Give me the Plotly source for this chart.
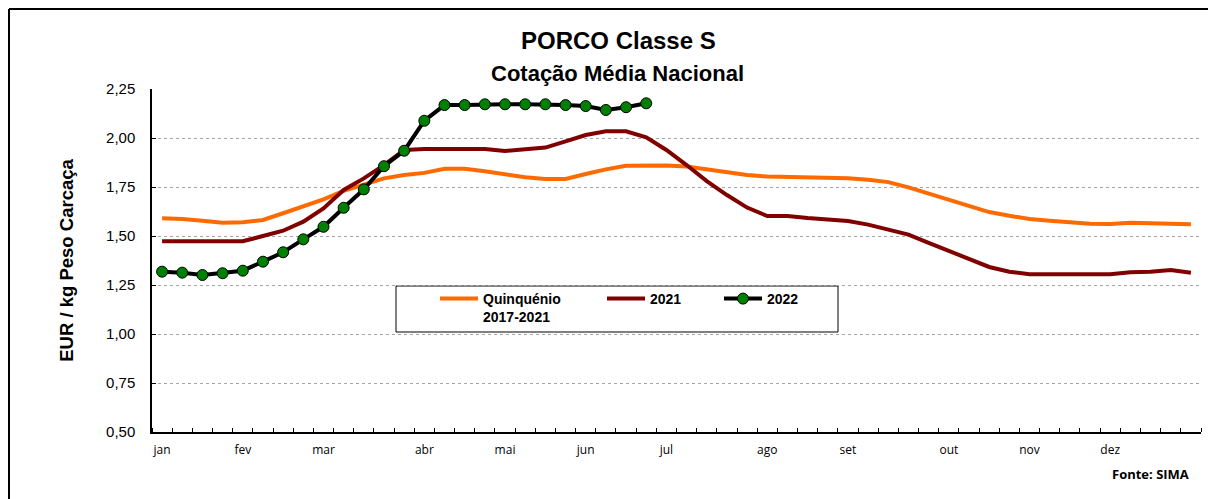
import plotly.graph_objects as go

# Weekly categories (52 weeks); month labels placed at the first week of each month
weeks = list(range(52))
month_weeks = [0, 4, 8, 13, 17, 21, 25, 30, 34, 39, 43, 47]
month_labels = ["jan", "fev", "mar", "abr", "mai", "jun", "jul", "ago", "set", "out", "nov", "dez"]

quinquenio = [1.590, 1.587, 1.578, 1.568, 1.570, 1.582, 1.616, 1.653, 1.687, 1.730,
              1.760, 1.794, 1.811, 1.822, 1.843, 1.843, 1.830, 1.815, 1.800, 1.791,
              1.791, 1.816, 1.840, 1.858, 1.860, 1.860, 1.855, 1.840, 1.825, 1.811,
              1.803, 1.801, 1.800, 1.799, 1.795, 1.787, 1.775, 1.748, 1.716, 1.688,
              1.655, 1.622, 1.603, 1.587, 1.578, 1.571, 1.562, 1.561, 1.567, 1.565,
              1.565, 1.560]

y2021 = [1.473, 1.473, 1.473, 1.473, 1.473, 1.500, 1.527, 1.573, 1.641, 1.735,
         1.794, 1.862, 1.939, 1.944, 1.944, 1.944, 1.944, 1.934, 1.943, 1.951,
         1.983, 2.015, 2.034, 2.034, 2.004, 1.939, 1.862, 1.780, 1.709, 1.645,
         1.602, 1.602, 1.592, 1.585, 1.577, 1.558, 1.530, 1.507, 1.465, 1.423,
         1.385, 1.342, 1.318, 1.305, 1.305, 1.305, 1.305, 1.305, 1.315, 1.318,
         1.327, 1.313]

y2022 = [1.318, 1.313, 1.301, 1.310, 1.323, 1.369, 1.417, 1.483, 1.547, 1.644,
         1.738, 1.856, 1.935, 2.088, 2.168, 2.168, 2.172, 2.172, 2.172, 2.172,
         2.168, 2.163, 2.143, 2.157, 2.177]

# The page body adds an 8px offset, so the figure is 8px smaller than the window
OFF = 8
W, H = 1216 - OFF, 499 - OFF
L, R, T, B = 152 - OFF, 15, 89 - OFF, 67
pw, ph = W - L - R, H - T - B


def px(xw):
    return (xw - OFF - L) / pw


def py(yw):
    return (H - B - (yw - OFF)) / ph


fig = go.Figure()
fig.add_trace(go.Scatter(
    x=weeks, y=quinquenio, mode="lines", name="Quinquénio<br>2017-2021",
    line=dict(color="#FF6A00", width=4), legendwidth=114))
fig.add_trace(go.Scatter(
    x=weeks, y=y2021, mode="lines", name="2021",
    line=dict(color="#800000", width=4), legendwidth=64))
fig.add_trace(go.Scatter(
    x=weeks[:len(y2022)], y=y2022, mode="lines+markers", name="2022",
    line=dict(color="#000000", width=4),
    marker=dict(color="#008000", size=11, line=dict(color="#000000", width=1))))

font_main = "Liberation Sans, Arial, sans-serif"

fig.update_layout(
    width=W, height=H,
    margin=dict(l=L, r=R, t=T, b=B),
    paper_bgcolor="white", plot_bgcolor="white",
    separators=", ",
    font=dict(family=font_main, color="black"),
    showlegend=True,
    legend=dict(
        orientation="h", x=px(435), y=py(283), xanchor="left", yanchor="top",
        bgcolor="rgba(0,0,0,0)", borderwidth=0, itemwidth=38, valign="top",
        font=dict(family=font_main, size=14, color="black", weight="bold"),
        traceorder="normal", itemclick=False),
    xaxis=dict(
        range=[-0.5, 51.5], tickmode="array", tickvals=month_weeks, ticktext=month_labels,
        ticks="", showgrid=False, zeroline=False,
        showline=True, linecolor="black", linewidth=1.5,
        tickfont=dict(family="Open Sans, sans-serif", size=12, color="black"),
        ticklabelstandoff=6,
        minor=dict(tickvals=[k + 0.5 for k in range(-1, 52)], ticks="inside",
                   ticklen=4, tickwidth=1, tickcolor="black", showgrid=False),
    ),
    yaxis=dict(
        range=[0.5, 2.25], tick0=0.5, dtick=0.25, tickformat=".2f",
        ticks="inside", ticklen=4, tickwidth=1, tickcolor="black",
        showline=True, linecolor="black", linewidth=1.5, zeroline=False,
        showgrid=True, gridcolor="#A6A6A6", gridwidth=1, griddash="dot",
        tickfont=dict(family=font_main, size=15, color="black"),
        ticklabelstandoff=12,
        title=dict(text="EUR / kg Peso Carcaça", standoff=28,
                   font=dict(family=font_main, size=18.5, color="black", weight="bold")),
    ),
    shapes=[
        dict(type="rect", xref="paper", yref="paper", x0=px(396), x1=px(838),
             y0=py(286), y1=py(332), line=dict(color="black", width=1),
             fillcolor="white", layer="between"),
        dict(type="line", xref="paper", yref="paper", x0=px(9), x1=px(1240),
             y0=py(9), y1=py(9), line=dict(color="black", width=2)),
        dict(type="line", xref="paper", yref="paper", x0=px(9), x1=px(9),
             y0=py(9), y1=py(540), line=dict(color="black", width=2)),
    ],
    annotations=[
        dict(text="<b>PORCO Classe S</b>", xref="paper", yref="paper", x=px(618), y=py(40),
             xanchor="center", yanchor="middle", showarrow=False,
             font=dict(family=font_main, size=24, color="black")),
        dict(text="<b>Cotação Média Nacional</b>", xref="paper", yref="paper", x=px(617), y=py(73),
             xanchor="center", yanchor="middle", showarrow=False,
             font=dict(family=font_main, size=22, color="black")),
        dict(text="<b>Fonte: SIMA</b>", xref="paper", yref="paper", x=px(1191), y=py(474),
             xanchor="right", yanchor="middle", showarrow=False,
             font=dict(family="Open Sans, sans-serif", size=13, color="black")),
    ],
)

fig.write_html("out.html")
